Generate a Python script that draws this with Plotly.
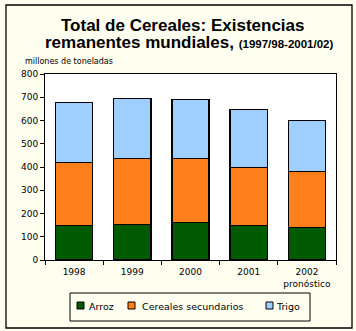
import plotly.graph_objects as go

# World cereal carry-over stocks, million tonnes
years = ["1998", "1999", "2000", "2001", "2002<br>pronóstico"]
arroz = [149, 153, 162, 149, 141]
cereales_secundarios = [271, 284, 275, 249, 240]
trigo = [258, 258, 254, 250, 220]
y_ticks = [0, 100, 200, 300, 400, 500, 600, 700, 800]

series = [
    ("Arroz", arroz, "#005A00"),
    ("Cereales secundarios", cereales_secundarios, "#FF7F1A"),
    ("Trigo", trigo, "#9FCFFF"),
]

W, H = 356, 331
ML, MR, MT, MB = 45, 20, 74, 71
PW, PH = W - ML - MR, H - MT - MB


def px(x):
    return (x - ML) / PW


def py(y):
    return (H - MB - y) / PH


FONT = "DejaVu Sans"
TITLE_FONT = "Liberation Sans"
outline = dict(color="black", width=1.3)

fig = go.Figure()
for name, vals, color in series:
    fig.add_trace(go.Bar(x=years, y=vals, name=name, showlegend=False,
                         marker=dict(color=color, line=outline)))

# Outer frame and compact legend box below the plot
shapes = [
    dict(type="rect", xref="paper", yref="paper", x0=px(6), x1=px(352), y0=py(328), y1=py(5),
         line=dict(color="black", width=1.3), fillcolor="rgba(0,0,0,0)"),
    dict(type="rect", xref="paper", yref="paper", x0=px(70), x1=px(310), y0=py(321), y1=py(293),
         line=dict(color="black", width=1), fillcolor="rgba(0,0,0,0)"),
]
annotations = []
legend_x = [(77, 87), (128, 140), (266, 274)]
for (name, _, color), (sx, tx) in zip(series, legend_x):
    shapes.append(dict(type="rect", xref="paper", yref="paper",
                       x0=px(sx), x1=px(sx + 7), y0=py(309), y1=py(302),
                       line=dict(color="black", width=1), fillcolor=color))
    annotations.append(dict(text=name, xref="paper", yref="paper", x=px(tx), y=py(306.5),
                            xanchor="left", yanchor="middle", showarrow=False,
                            font=dict(size=9.5)))

annotations += [
    dict(text="<b>Total de Cereales: Existencias</b>", xref="paper", yref="paper",
         x=px(182), y=py(25), xanchor="center", yanchor="middle", showarrow=False,
         font=dict(family=TITLE_FONT, size=17)),
    dict(text="<b>remanentes mundiales,</b> <span style='font-size:11.5px'><b>(1997/98-2001/02)</b></span>",
         xref="paper", yref="paper", x=px(189), y=py(43), xanchor="center", yanchor="middle",
         showarrow=False, font=dict(family=TITLE_FONT, size=17)),
    dict(text="millones de toneladas", xref="paper", yref="paper",
         x=px(23), y=py(61), xanchor="left", yanchor="middle", showarrow=False,
         font=dict(size=8)),
]

fig.update_layout(
    width=W, height=H,
    margin=dict(l=ML, r=MR, t=MT, b=MB, autoexpand=False),
    barmode="stack", bargap=0.36,
    paper_bgcolor="#FFFFF0", plot_bgcolor="white",
    font=dict(family=FONT, size=9, color="black"),
    showlegend=False,
    xaxis=dict(showline=True, linecolor="black", linewidth=1, mirror=True,
               ticks="outside", tickson="boundaries", ticklen=4, tickcolor="black",
               tickfont=dict(size=9), ticklabelstandoff=3),
    yaxis=dict(range=[0, 800], tickvals=y_ticks, showgrid=False, zeroline=False,
               showline=True, linecolor="black", linewidth=1, mirror=True,
               ticks="outside", ticklen=4, tickcolor="black", tickfont=dict(size=9)),
    shapes=shapes,
    annotations=annotations,
)

fig.write_html("out.html")
